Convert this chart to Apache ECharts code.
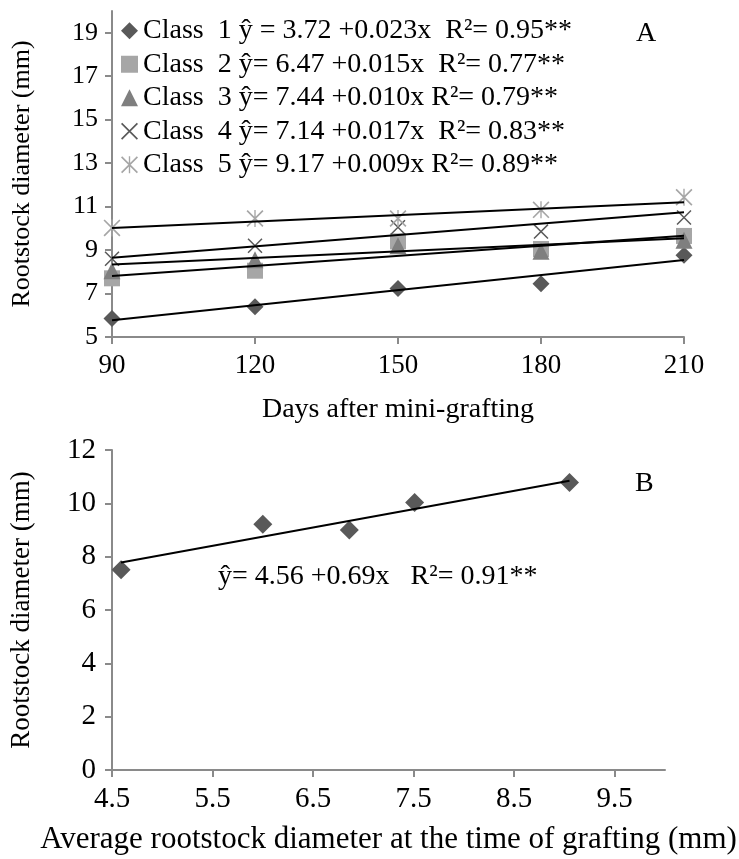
<!DOCTYPE html>
<html>
<head>
<meta charset="utf-8">
<script src="https://cdn.jsdelivr.net/npm/echarts@6/dist/echarts.min.js"></script>
<style>
  html, body { margin: 0; padding: 0; background: #fff; }
  #chart { width: 739px; height: 859px; }
</style>
</head>
<body>
<div id="chart"></div>
<script>
// Panel A: rootstock diameter over days after mini-grafting
const days = [90, 120, 150, 180, 210];
const class1 = [5.85, 6.39, 7.23, 7.45, 8.76];
const class2 = [7.7, 8.05, 9.4, 9.05, 9.65];
const class3 = [8.05, 8.55, 9.2, 8.95, 9.45];
const class4 = [8.6, 9.2, 10.05, 9.85, 10.5];
const class5 = [10.02, 10.45, 10.45, 10.85, 11.43];
// fitted lines read at 90 and 210 days
const trendStartA = [5.77, 7.81, 8.34, 8.65, 10.02];
const trendEndA = [8.54, 9.66, 9.54, 10.74, 11.2];
const classNames = [
  'Class  1 ŷ = 3.72 +0.023x  R²= 0.95**',
  'Class  2 ŷ= 6.47 +0.015x  R²= 0.77**',
  'Class  3 ŷ= 7.44 +0.010x R²= 0.79**',
  'Class  4 ŷ= 7.14 +0.017x  R²= 0.83**',
  'Class  5 ŷ= 9.17 +0.009x R²= 0.89**'
];
const yTicksA = [5, 7, 9, 11, 13, 15, 17, 19];

// Panel B: final diameter vs diameter at grafting
const graftDiam = [4.59, 6.0, 6.86, 7.51, 9.05];
const finalDiam = [7.51, 9.22, 9.0, 10.03, 10.78];
const trendB = [[4.59, 7.78], [9.05, 10.85]];
const xTicksB = [4.5, 5.5, 6.5, 7.5, 8.5, 9.5];
const yTicksB = [0, 2, 4, 6, 8, 10, 12];

const FONT = 'Liberation Serif';
const AXIS_GRAY = '#8a8a8a';

const X_SYM = 'path://M0,1.4L1.4,0L20,18.6L18.6,20Z M18.6,0L20,1.4L1.4,20L0,18.6Z';
const STAR_SYM = 'path://M0,1.4L1.4,0L20,18.6L18.6,20Z M18.6,0L20,1.4L1.4,20L0,18.6Z M9.2,0L10.8,0L10.8,20L9.2,20Z';

const classData = [class1, class2, class3, class4, class5];
const symbols = ['diamond', 'rect', 'triangle', X_SYM, STAR_SYM];
const symSizes = [17, 16, 17, 15, 17];
const colors = ['#595959', '#a6a6a6', '#7f7f7f', '#595959', '#a6a6a6'];

function tickStyle(values) {
  const t = { show: true, length: 7, lineStyle: { color: AXIS_GRAY, width: 2 } };
  if (values) t.customValues = values;
  return t;
}
function labelStyle(size, margin, values) {
  const l = { color: '#000', fontFamily: FONT, fontSize: size, margin: margin };
  if (values) l.customValues = values;
  return l;
}
function axisCommon(extra) {
  return Object.assign({
    type: 'value',
    splitLine: { show: false },
    axisLine: { show: true, onZero: false, lineStyle: { color: AXIS_GRAY, width: 2 } },
    axisTick: tickStyle(),
    nameTextStyle: { color: '#000', fontFamily: FONT, fontSize: 26 },
    nameLocation: 'middle'
  }, extra);
}

const series = [];
classData.forEach((vals, i) => {
  series.push({
    name: classNames[i],
    type: 'scatter',
    xAxisIndex: 0, yAxisIndex: 0,
    symbol: symbols[i],
    symbolSize: symSizes[i],
    symbolKeepAspect: true,
    itemStyle: { color: colors[i], opacity: 1 },
    data: days.map((d, j) => [d, vals[j]]),
    z: 2
  });
});
classData.forEach((vals, i) => {
  series.push({
    type: 'line',
    xAxisIndex: 0, yAxisIndex: 0,
    symbol: 'none',
    lineStyle: { color: '#000', width: 2 },
    data: [[days[0], trendStartA[i]], [days[days.length - 1], trendEndA[i]]],
    z: 3,
    silent: true
  });
});
series.push({
  type: 'scatter',
  xAxisIndex: 1, yAxisIndex: 1,
  symbol: 'diamond',
  symbolSize: 19,
  itemStyle: { color: '#595959', opacity: 1 },
  data: graftDiam.map((g, j) => [g, finalDiam[j]]),
  z: 2
});
series.push({
  type: 'line',
  xAxisIndex: 1, yAxisIndex: 1,
  symbol: 'none',
  lineStyle: { color: '#000', width: 2 },
  data: trendB,
  z: 3,
  silent: true
});

const option = {
  backgroundColor: '#fff',
  animation: false,
  grid: [
    { left: 112, top: 11, width: 572, height: 326, containLabel: false, outerBoundsMode: 'none' },
    { left: 112, top: 450, width: 553, height: 320, containLabel: false, outerBoundsMode: 'none' }
  ],
  xAxis: [
    axisCommon({
      gridIndex: 0, min: 90, max: 210, interval: 30,
      name: 'Days after mini-grafting', nameGap: 59,
      nameTextStyle: { color: '#000', fontFamily: FONT, fontSize: 28 },
      axisLabel: labelStyle(27, 15)
    }),
    axisCommon({
      gridIndex: 1, min: 4.5, max: 10, interval: 1,
      name: 'Average rootstock diameter at the time of grafting (mm)', nameGap: 54,
      nameTextStyle: { color: '#000', fontFamily: FONT, fontSize: 31 },
      axisTick: tickStyle(xTicksB),
      axisLabel: Object.assign(labelStyle(29, 15, xTicksB), { formatter: v => v.toFixed(1) })
    })
  ],
  yAxis: [
    axisCommon({
      gridIndex: 0, min: 5, max: 20, interval: 2,
      name: 'Rootstock diameter (mm)', nameGap: 77,
      axisTick: tickStyle(yTicksA),
      axisLabel: labelStyle(26, 14, yTicksA)
    }),
    axisCommon({
      gridIndex: 1, min: 0, max: 12, interval: 2,
      name: 'Rootstock diameter (mm)', nameGap: 77,
      nameTextStyle: { color: '#000', fontFamily: FONT, fontSize: 27 },
      axisTick: tickStyle(yTicksB),
      axisLabel: labelStyle(29, 16, yTicksB)
    })
  ],
  legend: {
    data: classNames,
    orient: 'vertical',
    left: 116,
    top: 9,
    itemWidth: 17,
    itemHeight: 17,
    itemGap: 0,
    selectedMode: false,
    textStyle: { color: '#000', fontFamily: FONT, fontSize: 28, lineHeight: 33.5 }
  },
  graphic: [
    { type: 'text', left: 636, top: 20, style: { text: 'A', font: '28px "Liberation Serif"', fill: '#000' } },
    { type: 'text', left: 635, top: 470, style: { text: 'B', font: '28px "Liberation Serif"', fill: '#000' } },
    { type: 'text', left: 218, top: 563, style: { text: 'ŷ= 4.56 +0.69x   R²= 0.91**', font: '28px "Liberation Serif"', fill: '#000' } }
  ],
  series: series
};

const chart = echarts.init(document.getElementById('chart'), null, { renderer: 'canvas' });
chart.setOption(option);
</script>
</body>
</html>
